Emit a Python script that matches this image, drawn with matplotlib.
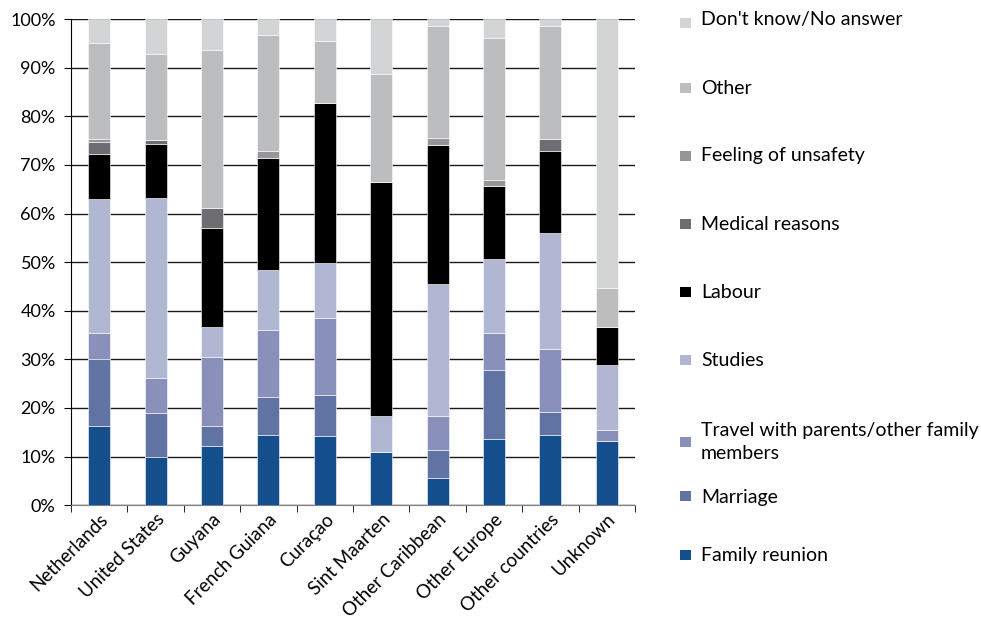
import matplotlib.pyplot as plt
from matplotlib.patches import Rectangle
import numpy as np

# Dados
paises = ['Netherlands', 'United States', 'Guyana', 'French Guiana', 'Curaçao',
          'Sint Maarten', 'Other Caribbean', 'Other Europe', 'Other countries', 'Unknown']

# segment sizes (%)
family_reunion = [16.2, 9.8, 12.1, 14.5, 14.2, 11.0, 5.5, 13.7, 14.5, 13.1]
marriage = [13.9, 9.2, 4.1, 7.7, 8.5, 0.0, 5.8, 14.1, 4.7, 0.0]
travel = [5.3, 7.1, 14.2, 13.9, 15.8, 0.0, 7.1, 7.6, 13.0, 2.4]
studies = [27.6, 37.0, 6.3, 12.3, 11.4, 7.4, 27.2, 15.2, 23.9, 13.4]
labour = [9.3, 11.3, 20.3, 23.1, 32.8, 48.1, 28.6, 15.1, 16.8, 7.8]
medical = [2.5, 0.7, 4.1, 0.0, 0.0, 0.0, 0.0, 0.0, 2.4, 0.0]
unsafety = [0.5, 0.0, 0.0, 1.4, 0.0, 0.0, 1.3, 1.2, 0.0, 0.0]
other = [19.9, 17.8, 32.6, 23.9, 12.9, 22.3, 23.0, 29.3, 23.2, 8.0]
dont_know = [4.8, 7.1, 6.3, 3.2, 4.4, 11.2, 1.5, 3.8, 1.5, 55.3]

series = [
    ('Family reunion', family_reunion, '#144e8c'),
    ('Marriage', marriage, '#6073a3'),
    ('Travel with parents/other family\nmembers', travel, '#8990ba'),
    ('Studies', studies, '#b1b6d2'),
    ('Labour', labour, '#000000'),
    ('Medical reasons', medical, '#6e6e72'),
    ('Feeling of unsafety', unsafety, '#969698'),
    ('Other', other, '#bcbdbf'),
    ("Don't know/No answer", dont_know, '#d3d4d6'),
]

plt.rcParams['font.family'] = ['Lato', 'DejaVu Sans']

W, H = 981, 619
fig = plt.figure(figsize=(W / 100, H / 100), dpi=100)
ax = fig.add_axes([0.0724, 0.184, 0.575, 0.785])

x = np.arange(len(paises))
base = np.zeros(len(paises))
for nome, vals, cor in series:
    vals = np.array(vals)
    ax.bar(x, vals, bottom=base, width=0.39, color=cor, label=nome,
           edgecolor='white', linewidth=0.4, zorder=3)
    base += vals

ax.set_ylim(0, 100)
ax.set_xlim(-0.5, len(paises) - 0.5)
ax.set_yticks(range(0, 101, 10))
ax.set_yticklabels([f'{v}%' for v in range(0, 101, 10)], fontsize=13)
ax.yaxis.grid(True, color='#1a1a1a', linewidth=1)
ax.set_axisbelow(True)

ax.set_xticks(x)
ax.set_xticklabels(paises, rotation=45, ha='right', rotation_mode='anchor', fontsize=13.5)
ax.tick_params(axis='x', length=0, pad=4)
ax.set_xticks(np.arange(-0.5, len(paises)), minor=True)
ax.tick_params(axis='x', which='minor', length=5, color='black')
ax.tick_params(axis='y', length=5, color='black', pad=6)

for s in ['top', 'right']:
    ax.spines[s].set_visible(False)
ax.spines['left'].set_color('black')
ax.spines['bottom'].set_color('#808080')

# legenda (ordem invertida, posicoes em pixels da figura)
texto_y = [556, 497, 442, 360, 292, 224, 156, 88, 20]
quad_y = [555, 496, 442, 360, 292, 224, 156, 88, 23]
for (nome, vals, cor), ty, qy in zip(series, texto_y, quad_y):
    fig.patches.append(Rectangle((680 / W, 1 - (qy + 5) / H), 11 / W, 10 / H,
                                 transform=fig.transFigure, facecolor=cor,
                                 edgecolor='none'))
    fig.text(701 / W, 1 - ty / H, nome, fontsize=14, va='center', ha='left',
             linespacing=1.45)

plt.savefig('out.png', dpi=100)
